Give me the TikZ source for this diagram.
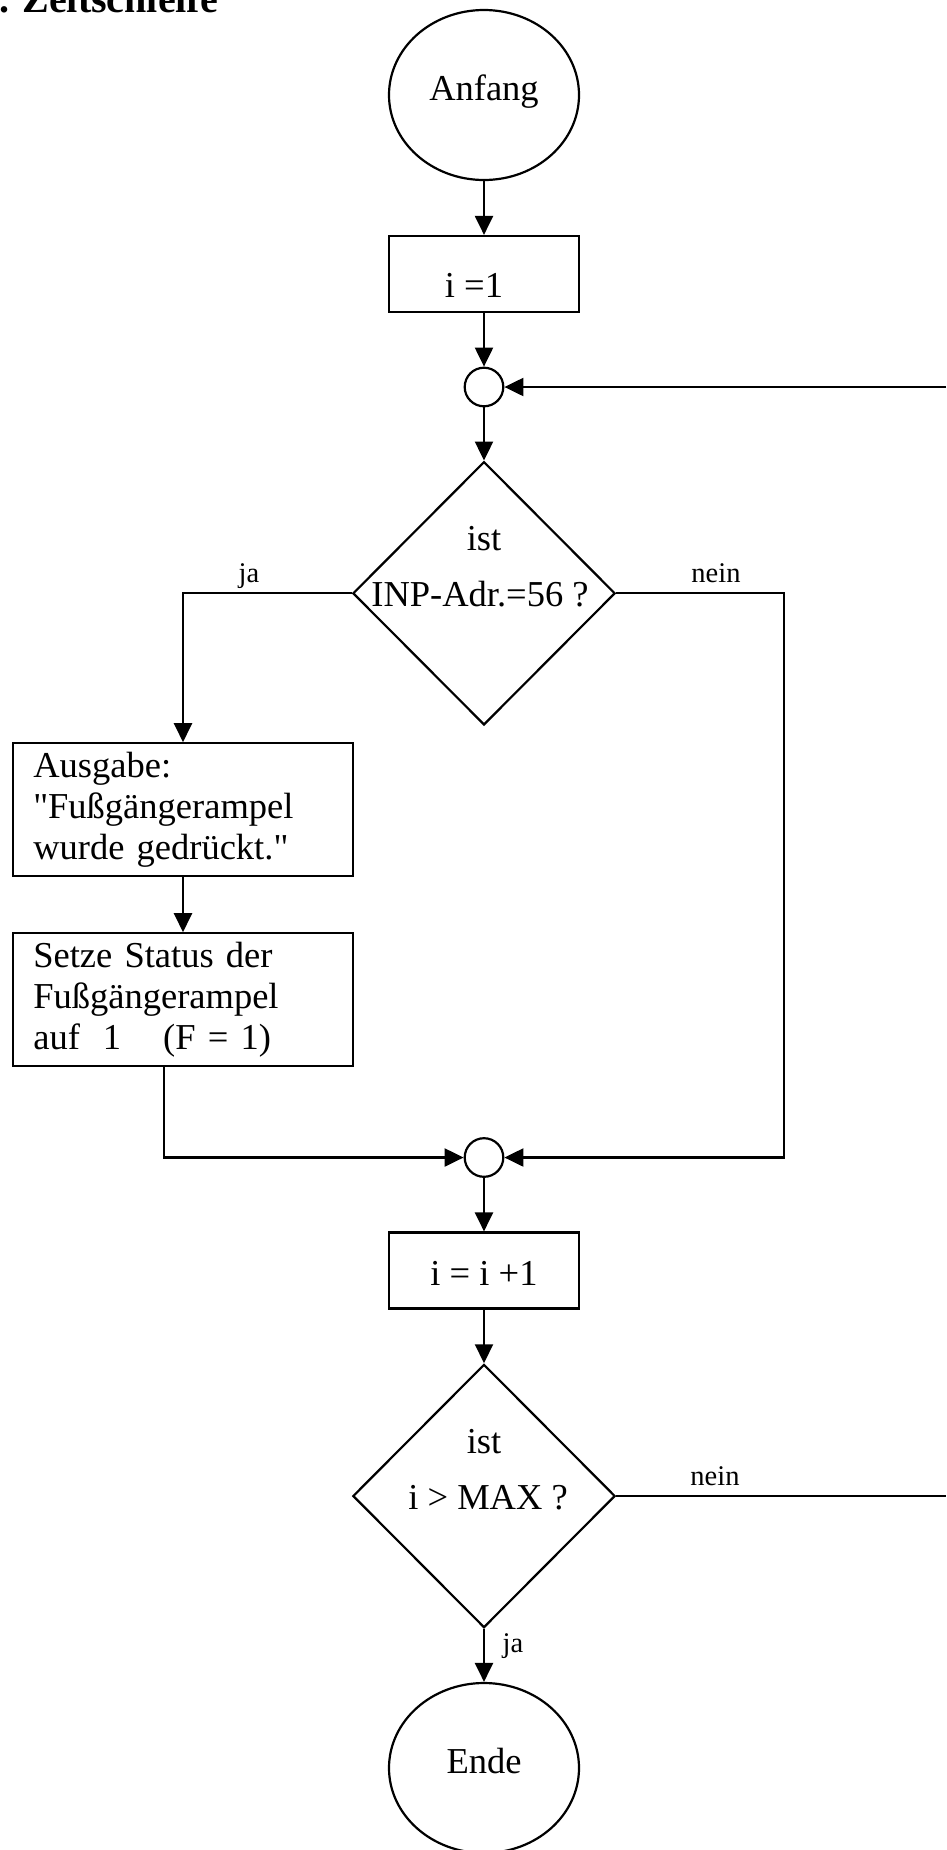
\documentclass[tikz,border=0pt]{standalone}
\usepackage{fontspec}
\setmainfont{Liberation Serif}[Ligatures=TeXOff]
\usetikzlibrary{shapes.geometric,arrows.meta,calc}

\begin{document}
\begin{tikzpicture}[x=1pt,y=-1pt,
  line/.style={line width=2.2pt},
  arr/.style={line width=2.2pt,-{Triangle[length=19pt,width=18pt]}},
  big/.style={font=\fontsize{36.5}{41}\selectfont},
  small/.style={font=\fontsize{28.5}{34}\selectfont},
  terminal/.style={draw,line width=2.2pt,ellipse,minimum width=190pt,minimum height=170pt,
    inner sep=0pt,big,text height=24pt,text depth=14pt},
  procbox/.style={draw,line width=2.2pt,rectangle,minimum width=190pt,minimum height=76pt,
    inner sep=0pt,big},
  textbox/.style={draw,line width=2.2pt,rectangle,minimum width=339.4pt,minimum height=132.4pt,
    text width=299.4pt,inner xsep=20pt,inner ysep=0pt,align=left,big},
  decision/.style={draw,line width=2.2pt,diamond,aspect=1,minimum width=262.3pt,
    minimum height=263.3pt,inner sep=0pt},
  joint/.style={draw,line width=2.2pt,circle,minimum size=38.6pt,inner sep=0pt},
  lbl/.style={anchor=base,inner sep=0pt},
]
\useasboundingbox (0,0) rectangle (946,1850);

% heading
\node[anchor=base west,inner sep=0pt,font=\fontsize{40}{48}\selectfont\bfseries] (title) at (-1,12) {. Zeitschleife};

% main column
\node[terminal] (anf) at (484,95) {Anfang};
\node[procbox,text height=46pt,text depth=0pt] (b1) at (484,274) {i =1\hspace*{20pt}};
\node[joint] (c1) at (484,387) {};
\node[decision] (d1) at (484,593.3) {};
\node[lbl,big] (d1a) at (484,550) {ist};
\node[lbl,big] (d1b) at (480,606.7) {INP-Adr.=56 ?};

% left branch
\node[textbox] (out) at (183,809.5) {Ausgabe:\\"Fußgängerampel\\wurde gedrückt."};
\node[textbox] (set) at (183,999.5) {Setze Status der\\Fußgängerampel\\auf\hspace*{23pt}1\hspace*{42pt}(F = 1)};

% lower column
\node[joint] (c2) at (484,1157.5) {};
\node[procbox,text height=29pt,text depth=0pt] (b3) at (484,1270.5) {i = i +1};
\node[decision] (d2) at (484,1496) {};
\node[lbl,big] (d2a) at (484,1453) {ist};
\node[lbl,big] (d2b) at (488,1509.3) {i > MAX ?};
\node[terminal] (ende) at (484,1768) {Ende};

% branch labels
\node[lbl,small] (ja1) at (249,582) {ja};
\node[lbl,small] (nein1) at (716,582) {nein};
\node[lbl,small] (nein2) at (715,1485) {nein};
\node[lbl,small] (ja2) at (513,1652) {ja};

% helper points at the right border and on the right rail
\coordinate (loopin) at (946,387);
\coordinate (loopout) at (946,1496);
\coordinate (nrail) at (784.3,0);

% connectors
\draw[arr] (anf) -- (b1);
\draw[arr] (b1) -- (c1);
\draw[arr] (c1) -- (d1);
\draw[arr] (loopin) -- (c1.east);
\draw[arr] (d1.west) -| (out.north);
\draw[arr] (d1.east) -| (nrail |- c2.east) -- (c2.east);
\draw[arr] (out) -- (set);
\draw[arr] ([xshift=-19pt]set.south) |- (c2.west);
\draw[arr] (c2) -- (b3);
\draw[arr] (b3) -- (d2);
\draw[line] (d2.east) -- (loopout);
\draw[arr] (d2) -- (ende);
\end{tikzpicture}
\end{document}
